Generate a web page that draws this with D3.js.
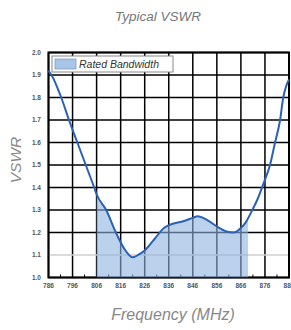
<!DOCTYPE html>
<html>
<head>
<meta charset="utf-8">
<script src="https://cdn.jsdelivr.net/npm/d3@7"></script>
<style>
  body { margin: 0; background: #fff; }
  svg { font-family: "Liberation Sans", Arial, sans-serif; }
</style>
</head>
<body>
<svg id="vis-svg"></svg>
<script>
// values
var freqs = [786, 788, 790, 791.3, 794.5, 798, 801.5, 805, 806, 810, 814, 818, 821, 824, 826, 830, 834, 838, 842, 846, 848, 852, 856, 860, 863, 866, 868, 870.5, 873, 875.3, 878.1, 880.2, 882.3, 883.6, 884.8, 886];
var vswr  = [1.92, 1.885, 1.835, 1.80, 1.70, 1.60, 1.50, 1.40, 1.37, 1.30, 1.20, 1.12, 1.09, 1.105, 1.12, 1.17, 1.22, 1.24, 1.25, 1.265, 1.272, 1.255, 1.227, 1.205, 1.20, 1.22, 1.245, 1.295, 1.35, 1.415, 1.50, 1.60, 1.70, 1.80, 1.85, 1.88];
var xTicks = [786, 796, 806, 816, 826, 836, 846, 856, 866, 876, 886];
var yTicks = [1.0, 1.1, 1.2, 1.3, 1.4, 1.5, 1.6, 1.7, 1.8, 1.9, 2.0];
var bandStart = 806, bandEnd = 869;

var width = 291, height = 330;
var margin = { top: 52.5, bottom: 52.5, left: 48.5, right: 2 };

var data = freqs.map(function(f, i) { return { f: f, v: vswr[i] }; });

var svg = d3.select('#vis-svg')
  .attr('width', width)
  .attr('height', height);

var xScale = d3.scaleLinear()
  .domain([786, 886])
  .range([margin.left, width - margin.right]);

var yScale = d3.scaleLinear()
  .domain([1.0, 2.0])
  .range([height - margin.bottom, margin.top]);

// grid
svg.append('g').selectAll('line.v')
  .data(xTicks)
  .enter().append('line')
  .attr('x1', function(d) { return xScale(d); })
  .attr('x2', function(d) { return xScale(d); })
  .attr('y1', yScale(1.0))
  .attr('y2', yScale(2.0))
  .attr('stroke', '#000')
  .attr('stroke-width', 1.5);

svg.append('g').selectAll('line.h')
  .data(yTicks)
  .enter().append('line')
  .attr('x1', xScale(786))
  .attr('x2', xScale(886))
  .attr('y1', function(d) { return yScale(d); })
  .attr('y2', function(d) { return yScale(d); })
  .attr('stroke', function(d) { return d === 1.1 ? '#cfcfcf' : '#000'; })
  .attr('stroke-width', 1.5);

// minor ticks on bottom axis
svg.append('g').selectAll('line')
  .data(xTicks.slice(0, -1).map(function(d) { return d + 5; }))
  .enter().append('line')
  .attr('x1', function(d) { return xScale(d); })
  .attr('x2', function(d) { return xScale(d); })
  .attr('y1', yScale(1.0))
  .attr('y2', yScale(1.0) - 3)
  .attr('stroke', '#000')
  .attr('stroke-width', 1);

// frame
svg.append('rect')
  .attr('x', xScale(786))
  .attr('y', yScale(2.0))
  .attr('width', xScale(886) - xScale(786))
  .attr('height', yScale(1.0) - yScale(2.0))
  .attr('fill', 'none')
  .attr('stroke', '#000')
  .attr('stroke-width', 2);

// rated bandwidth fill
svg.append('clipPath').attr('id', 'band')
  .append('rect')
  .attr('x', xScale(bandStart))
  .attr('y', yScale(2.0))
  .attr('width', xScale(bandEnd) - xScale(bandStart))
  .attr('height', yScale(1.0) - yScale(2.0));

var area = d3.area()
  .x(function(d) { return xScale(d.f); })
  .y0(yScale(1.0))
  .y1(function(d) { return yScale(d.v); })
  .curve(d3.curveMonotoneX);

svg.append('path')
  .datum(data)
  .attr('clip-path', 'url(#band)')
  .attr('d', area)
  .attr('fill', '#8fb4e0')
  .attr('fill-opacity', 0.6);

// VSWR curve
var line = d3.line()
  .x(function(d) { return xScale(d.f); })
  .y(function(d) { return yScale(d.v); })
  .curve(d3.curveMonotoneX);

svg.append('path')
  .datum(data)
  .attr('d', line)
  .attr('fill', 'none')
  .attr('stroke', '#2a62b6')
  .attr('stroke-width', 2);

// tick labels
svg.append('g').selectAll('text')
  .data(xTicks)
  .enter().append('text')
  .attr('x', function(d) { return xScale(d); })
  .attr('y', yScale(1.0) + 10)
  .attr('text-anchor', 'middle')
  .attr('font-size', 6.5)
  .attr('font-weight', 'bold')
  .attr('fill', '#555')
  .text(function(d) { return d; });

svg.append('g').selectAll('text')
  .data(yTicks)
  .enter().append('text')
  .attr('x', 41)
  .attr('y', function(d) { return yScale(d) + 2.3; })
  .attr('text-anchor', 'end')
  .attr('font-size', 6.5)
  .attr('font-weight', 'bold')
  .attr('fill', '#555')
  .text(function(d) { return d.toFixed(1); });

// legend
var legend = svg.append('g');
legend.append('rect')
  .attr('x', 52).attr('y', 56)
  .attr('width', 121).attr('height', 16)
  .attr('fill', '#fff')
  .attr('stroke', '#888')
  .attr('stroke-width', 1);
legend.append('rect')
  .attr('x', 55).attr('y', 59)
  .attr('width', 21).attr('height', 10)
  .attr('fill', '#a8c4e6')
  .attr('stroke', '#7f9fc8')
  .attr('stroke-width', 0.8);
legend.append('text')
  .attr('x', 79).attr('y', 68)
  .attr('font-size', 10.5)
  .attr('font-style', 'italic')
  .attr('fill', '#333')
  .text('Rated Bandwidth');

// titles
svg.append('text')
  .attr('x', 158).attr('y', 21)
  .attr('text-anchor', 'middle')
  .attr('font-size', 13.5)
  .attr('font-style', 'italic')
  .attr('fill', '#777')
  .text('Typical VSWR');

svg.append('text')
  .attr('transform', 'translate(21,160) rotate(-90)')
  .attr('text-anchor', 'middle')
  .attr('font-size', 15.5)
  .attr('font-style', 'italic')
  .attr('fill', '#888')
  .text('VSWR');

svg.append('text')
  .attr('x', 173).attr('y', 320)
  .attr('text-anchor', 'middle')
  .attr('font-size', 16)
  .attr('font-style', 'italic')
  .attr('fill', '#888')
  .text('Frequency (MHz)');
</script>
</body>
</html>
